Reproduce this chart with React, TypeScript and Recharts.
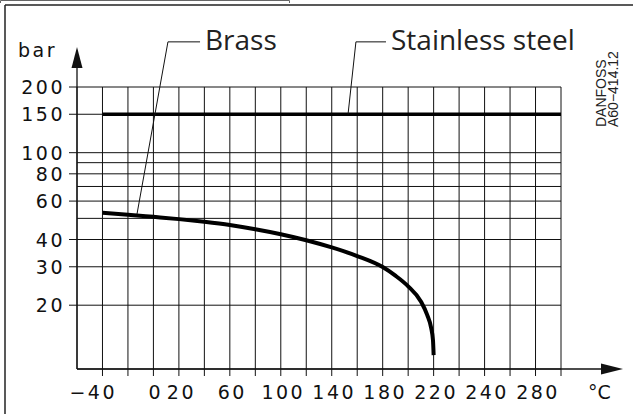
import React from 'react';
import {
  ComposedChart,
  Line,
  XAxis,
  YAxis,
  CartesianGrid,
  ReferenceLine,
  ReferenceDot,
  Customized,
} from 'recharts';

// Brass curve (temperature °C -> max pressure bar)
const brassTemps = [-40, -20, 0, 20, 40, 60, 80, 100, 120, 140, 160, 180, 190, 200, 210, 215, 218, 219.5, 220];
const brassPressures = [53, 52.0, 50.8, 49.6, 48.2, 46.6, 44.6, 42.3, 39.7, 36.8, 33.6, 29.9, 27.3, 24.4, 20.8, 18.0, 15.8, 13.8, 11.8];

// Stainless steel line
const steelTemps = [-40, 320];
const steelPressures = [150, 150];

// Axes
const xGridTicks = [-40, -20, 0, 20, 40, 60, 80, 100, 120, 140, 160, 180, 200, 220, 240, 260, 280, 300, 320];
const xLabelPositions = [-40, 0, 20, 60, 100, 140, 180, 220, 260, 300];
const xLabelTexts = ['−40', '0', '20', '60', '100', '140', '180', '220', '240', '280'];
const yGridTicks = [20, 30, 40, 50, 60, 70, 80, 90, 100, 150, 200];
const yLabelValues = [20, 30, 40, 60, 80, 100, 150, 200];

const brassData = brassTemps.map((t, i) => ({ t, p: brassPressures[i] }));
const steelData = steelTemps.map((t, i) => ({ t, p: steelPressures[i] }));

const INK = '#111';
const NUM_FONT = 'DejaVu Sans';
const NUM_SIZE = 19;
const NUM_SPACING = 2.5;

const YTick = (props: any) => {
  const { x, y, payload } = props;
  if (!yLabelValues.includes(payload.value)) return <g />;
  return (
    <g>
      <line x1={x - 8} x2={x} y1={y} y2={y} stroke={INK} strokeWidth={1} />
      <text x={x - 12} y={y} dy={7} textAnchor="end" fontFamily={NUM_FONT} fontSize={NUM_SIZE} letterSpacing={NUM_SPACING} fill={INK}>
        {payload.value}
      </text>
    </g>
  );
};

const XTick = (props: any) => {
  const { x, y, payload } = props;
  const idx = xLabelPositions.indexOf(payload.value);
  if (idx < 0) return <g />;
  const label = xLabelTexts[idx];
  const negative = label.startsWith('−');
  const digits = negative ? label.slice(1) : label;
  // digits are centred on the tick; a minus sign hangs to the left
  const half = (digits.length * (NUM_SIZE * 0.636 + NUM_SPACING)) / 2;
  return (
    <text
      x={negative ? x + half : x + 2.5}
      y={y}
      dy={21}
      textAnchor={negative ? 'end' : 'middle'}
      fontFamily={NUM_FONT}
      fontSize={NUM_SIZE}
      letterSpacing={NUM_SPACING}
      fill={INK}
    >
      {label}
    </text>
  );
};

const YAxisDeco = (props: any) => {
  const { x, y, width } = props.viewBox;
  const ax = x + width;
  return (
    <g>
      <line x1={ax} x2={ax} y1={y} y2={y - 20} stroke={INK} strokeWidth={1.3} />
      <polygon points={`${ax},${y - 40} ${ax - 5.5},${y - 19} ${ax + 5.5},${y - 19}`} fill={INK} />
      <text x={x + 18} y={y - 30} fontFamily={NUM_FONT} fontSize={NUM_SIZE} letterSpacing={NUM_SPACING} fill={INK}>bar</text>
    </g>
  );
};

const XAxisDeco = (props: any) => {
  const { x, y, width } = props.viewBox;
  const ex = x + width;
  return (
    <g>
      <line x1={ex} x2={ex + 41} y1={y} y2={y} stroke={INK} strokeWidth={1.3} />
      <polygon points={`${ex + 62},${y} ${ex + 40},${y - 5.5} ${ex + 40},${y + 5.5}`} fill={INK} />
      <text x={ex + 27} y={y + 30} fontFamily={NUM_FONT} fontSize={NUM_SIZE} fill={INK}>°C</text>
    </g>
  );
};

const nameLabel = (text: string) => (props: any) => {
  const { x, y } = props.viewBox;
  return (
    <text x={x + 5} y={y + 8} fontFamily="Open Sans" fontSize={28} fill="#222">
      {text}
    </text>
  );
};

const Frame = () => (
  <g>
    <line x1={5} x2={5} y1={5} y2={414} stroke="#222" strokeWidth={1.5} />
    <line x1={5} x2={633} y1={5} y2={5} stroke="#222" strokeWidth={1.5} />
    <path d="M0.5,3 V0.5 H289.5 V3" stroke="#666" strokeWidth={1} fill="none" />
    <g transform="translate(606,127) rotate(-90)">
      <text x={0} y={0} fontFamily="Liberation Sans" fontSize={14} fill="#222">DANFOSS</text>
    </g>
    <g transform="translate(618,127) rotate(-90)">
      <text x={0} y={0} fontFamily="Liberation Sans" fontSize={14} fill="#222">A60−414.12</text>
    </g>
  </g>
);

export default function App() {
  return (
    <div style={{ position: 'absolute', left: 0, top: 0, width: 633, height: 414, background: '#fff' }}>
      <ComposedChart width={633} height={414} margin={{ top: 87, right: 72, bottom: 0, left: 0 }}>
        <Customized component={Frame} />
        <CartesianGrid stroke={INK} strokeWidth={1} />
        <XAxis
          dataKey="t"
          type="number"
          domain={[-60, 320]}
          ticks={xGridTicks}
          interval={0}
          allowDataOverflow
          height={45}
          tickSize={7}
          tickMargin={2}
          tickLine={{ stroke: INK }}
          axisLine={{ stroke: INK, strokeWidth: 1.3 }}
          tick={<XTick />}
          label={XAxisDeco}
        />
        <YAxis
          dataKey="p"
          type="number"
          scale="log"
          domain={[10.2, 200]}
          ticks={yGridTicks}
          interval={0}
          allowDataOverflow
          width={77}
          tickSize={0}
          tickMargin={0}
          tickLine={false}
          axisLine={{ stroke: INK, strokeWidth: 1.3 }}
          tick={<YTick />}
          label={YAxisDeco}
        />
        <Line data={steelData} dataKey="p" type="linear" stroke="#000" strokeWidth={3.5} dot={false} isAnimationActive={false} />
        <Line data={brassData} dataKey="p" type="monotone" stroke="#000" strokeWidth={4} dot={false} isAnimationActive={false} />
        <ReferenceLine segment={[{ x: -12.9, y: 52.3 }, { x: 11.4, y: 322 }]} stroke={INK} strokeWidth={1} ifOverflow="visible" />
        <ReferenceLine segment={[{ x: 11.4, y: 322 }, { x: 36.6, y: 322 }]} stroke={INK} strokeWidth={1} ifOverflow="visible" />
        <ReferenceLine segment={[{ x: 152.8, y: 150 }, { x: 159, y: 322 }]} stroke={INK} strokeWidth={1} ifOverflow="visible" />
        <ReferenceLine segment={[{ x: 159, y: 322 }, { x: 182.6, y: 322 }]} stroke={INK} strokeWidth={1} ifOverflow="visible" />
        <ReferenceDot x={36.6} y={322} r={0} fill="none" stroke="none" ifOverflow="visible" label={{ content: nameLabel('Brass') }} />
        <ReferenceDot x={182.6} y={322} r={0} fill="none" stroke="none" ifOverflow="visible" label={{ content: nameLabel('Stainless steel') }} />
      </ComposedChart>
    </div>
  );
}
